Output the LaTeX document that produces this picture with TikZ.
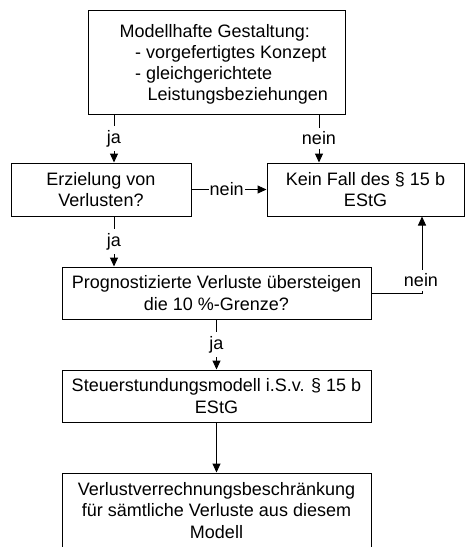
\documentclass[tikz,border=0pt]{standalone}
\usepackage{fontspec}
\setmainfont{Liberation Sans}
\usetikzlibrary{arrows.meta}

\begin{document}
\begin{tikzpicture}[
  x=1pt, y=-1pt,
  font=\fontsize{18}{21.5}\selectfont,
  box/.style={draw, line width=1pt, inner sep=0pt, align=center},
  line/.style={line width=1pt},
  arr/.style={line width=1pt, -{Triangle[width=8pt,length=9pt]}},
  lbl/.style={fill=white, inner xsep=1pt, inner ysep=4pt},
  txt/.style={inner sep=0pt, anchor=base west}
]
\path[use as bounding box, clip] (0,0) rectangle (465,547);

% boxes
\node[box, minimum width=257pt, minimum height=104pt] (model) at (216.5,62) {};
\node[txt] (m1) at (119.5,37) {Modellhafte Gestaltung:};
\node[txt] (m2) at (135,58) {- vorgefertigtes Konzept};
\node[txt] (m3) at (135,79) {- gleichgerichtete};
\node[txt] (m4) at (147.5,100) {Leistungsbeziehungen};

\node[box, minimum width=180pt, minimum height=53pt] (erz) at (101,189.5)
  {Erzielung von\\Verlusten?};
\node[box, minimum width=197pt, minimum height=53pt] (kein) at (365.5,189.5)
  {Kein Fall des \S\ 15 b\\EStG};
\node[box, minimum width=309pt, minimum height=52pt] (prog) at (216.5,293)
  {Prognostizierte Verluste übersteigen\\die 10 \%-Grenze?};
\node[box, minimum width=309pt, minimum height=52pt] (steuer) at (216.5,396)
  {Steuerstundungsmodell i.S.v. \S\ 15 b\\EStG};
\node[box, minimum width=309pt, minimum height=75pt] (verl) at (216.5,510.5)
  {Verlustverrechnungsbeschränkung\\für sämtliche Verluste aus diesem\\Modell};

% connector columns
\coordinate (colA) at (114,0);
\coordinate (colB) at (319,0);
\coordinate (colC) at (422,0);

% connectors
\draw[arr] (model.south -| colA) -- node[lbl] (ja1) {ja} (erz.north -| colA);
\draw[arr] (model.south -| colB) -- node[lbl] (nein1) {nein} (kein.north -| colB);
\draw[arr] (erz.east) -- node[lbl, pos=0.47] (nein2) {nein} (kein.west |- erz.east);
\draw[arr] (erz.south -| colA) -- node[lbl] (ja2) {ja} (prog.north -| colA);
\coordinate (bend) at (prog.east -| colC);
\draw[arr] (prog.east) -- (bend) -- (kein.south -| colC);
\node[lbl] (nein3) at (421,280.5) {nein};
\draw[arr] (prog.south) -- node[lbl] (ja3) {ja} (steuer.north);
\draw[arr] (steuer.south) -- (verl.north);
\end{tikzpicture}
\end{document}
